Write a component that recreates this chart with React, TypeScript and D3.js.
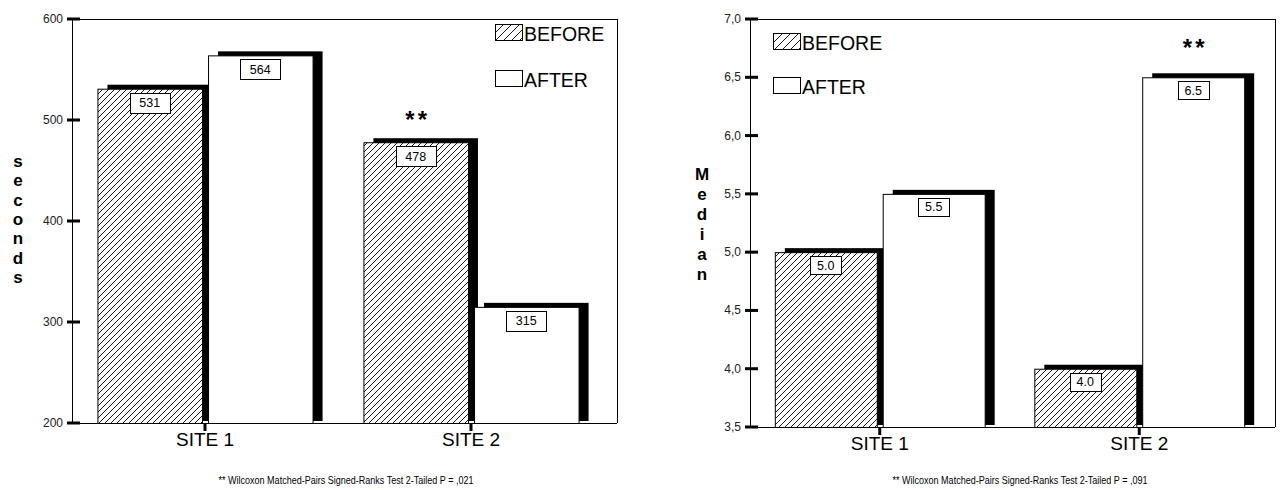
import React from "react";
import * as d3 from "d3";

// ---------- data ----------
const sites = ["SITE 1", "SITE 2"];
const seriesNames = ["BEFORE", "AFTER"];

const secondsBefore = [531, 478];
const secondsAfter = [564, 315];
const secondsTicks = [200, 300, 400, 500, 600];
const secondsSig = [{ site: "SITE 2", series: "BEFORE" }];
const secondsNote = "** Wilcoxon Matched-Pairs Signed-Ranks Test 2-Tailed P =  ,021";

const medianBefore = [5.0, 4.0];
const medianAfter = [5.5, 6.5];
const medianTicks = [3.5, 4.0, 4.5, 5.0, 5.5, 6.0, 6.5, 7.0];
const medianSig = [{ site: "SITE 2", series: "AFTER" }];
const medianNote = "** Wilcoxon Matched-Pairs Signed-Ranks Test 2-Tailed P =  ,091";

const FONT = "'Liberation Sans', Arial, sans-serif";

type ChartCfg = {
  id: string;
  axisX: number;
  rightX: number;
  top: number;
  bottom: number;
  domain: [number, number];
  bandStep: number;
  before: number[];
  after: number[];
  ticks: number[];
  tickFmt: (v: number) => string;
  valFmt: (v: number) => string;
  yLabel: string;
  yLabelX: number;
  yLabelY0: number;
  yLabelStep: number;
  legendX: number;
  legendY: number;
  legendGap: number;
  boxW: number;
  boxH: number;
  sig: { site: string; series: string }[];
  sigOffset: number;
  note: string;
  noteX: number;
};

const commaFmt = (v: number) => d3.format(".1f")(v).replace(".", ",");

const charts: ChartCfg[] = [
  {
    id: "sec",
    axisX: 72,
    rightX: 617,
    top: 19,
    bottom: 423,
    domain: [200, 600],
    bandStep: 266,
    before: secondsBefore,
    after: secondsAfter,
    ticks: secondsTicks,
    tickFmt: (v) => String(v),
    valFmt: (v) => String(v),
    yLabel: "seconds",
    yLabelX: 18,
    yLabelY0: 167,
    yLabelStep: 19.3,
    legendX: 495,
    legendY: 24,
    legendGap: 46,
    boxW: 40,
    boxH: 20,
    sig: secondsSig,
    sigOffset: 14,
    note: secondsNote,
    noteX: 346,
  },
  {
    id: "med",
    axisX: 750,
    rightX: 1275,
    top: 19,
    bottom: 427,
    domain: [3.5, 7.0],
    bandStep: 259.5,
    before: medianBefore,
    after: medianAfter,
    ticks: medianTicks,
    tickFmt: commaFmt,
    valFmt: (v) => d3.format(".1f")(v),
    yLabel: "Median",
    yLabelX: 702,
    yLabelY0: 180,
    yLabelStep: 20,
    legendX: 773,
    legendY: 33,
    legendGap: 44,
    boxW: 31,
    boxH: 18,
    sig: medianSig,
    sigOffset: 21,
    note: medianNote,
    noteX: 1020,
  },
];

function Chart({ c }: { c: ChartCfg }) {
  const y = d3.scaleLinear().domain(c.domain).range([c.bottom, c.top]);
  const x0 = d3
    .scaleBand<string>()
    .domain(sites)
    .range([c.axisX, c.axisX + c.bandStep * sites.length])
    .padding(0);
  const x1 = d3
    .scaleBand<string>()
    .domain(seriesNames)
    .range([0, x0.bandwidth()])
    .paddingInner(0.055)
    .paddingOuter(0.23);

  const vals: Record<string, number[]> = { BEFORE: c.before, AFTER: c.after };
  const bars = sites.flatMap((s, i) =>
    seriesNames.map((k) => ({
      site: s,
      series: k,
      value: vals[k][i],
      x: (x0(s) as number) + (x1(k) as number),
      w: x1.bandwidth(),
    }))
  );
  const dx = 10;
  const dy = 4;
  const patternId = `hatch-${c.id}`;
  const legendPatternId = `hatchL-${c.id}`;

  return (
    <g fontFamily={FONT}>
      <defs>
        <pattern id={patternId} patternUnits="userSpaceOnUse" width={6} height={6}>
          <rect width={6} height={6} fill="#fff" />
          <path d="M-1,1 l2,-2 M0,6 l6,-6 M5,7 l2,-2" stroke="#000" strokeWidth={0.9} />
        </pattern>
        <pattern id={legendPatternId} patternUnits="userSpaceOnUse" width={8} height={8}>
          <rect width={8} height={8} fill="#fff" />
          <path d="M-1,1 l2,-2 M0,8 l8,-8 M7,9 l2,-2" stroke="#000" strokeWidth={0.9} />
        </pattern>
      </defs>

      {/* frame */}
      <line x1={c.axisX} x2={c.rightX} y1={c.top + 0.5} y2={c.top + 0.5} stroke="#000" strokeWidth={1} />
      <line x1={c.rightX + 0.5} x2={c.rightX + 0.5} y1={c.top} y2={c.bottom} stroke="#000" strokeWidth={1} />
      <line x1={c.axisX} x2={c.rightX} y1={c.bottom + 0.5} y2={c.bottom + 0.5} stroke="#000" strokeWidth={1} />

      {/* bars with shadows */}
      {bars.map((b, i) => {
        const yt = y(b.value);
        return (
          <g key={i}>
            <rect x={b.x + dx} y={yt - dy} width={b.w} height={c.bottom - yt + 2} fill="#000" />
            <rect
              x={b.x + 0.5}
              y={yt + 0.5}
              width={b.w}
              height={c.bottom - yt}
              fill={b.series === "BEFORE" ? `url(#${patternId})` : "#fff"}
              stroke="#000"
              strokeWidth={1}
            />
          </g>
        );
      })}

      {/* value boxes */}
      {bars.map((b, i) => {
        const yt = y(b.value);
        const cx = b.x + b.w / 2;
        return (
          <g key={`v${i}`}>
            <rect
              x={Math.round(cx - c.boxW / 2) + 0.5}
              y={Math.round(yt + 4) + 0.5}
              width={c.boxW}
              height={c.boxH}
              fill="#fff"
              stroke="#000"
              strokeWidth={1}
            />
            <text x={cx} y={yt + 4 + c.boxH / 2 + 4.5} textAnchor="middle" fontSize={12.5} fill="#000">
              {c.valFmt(b.value)}
            </text>
          </g>
        );
      })}

      {/* significance marks */}
      {c.sig.map((m, i) => {
        const b = bars.find((bb) => bb.site === m.site && bb.series === m.series)!;
        return (
          <text
            key={`s${i}`}
            x={b.x + b.w / 2 + 2}
            y={y(b.value) - c.sigOffset}
            textAnchor="middle"
            fontSize={24}
            fontWeight="bold"
            letterSpacing={3}
          >
            **
          </text>
        );
      })}

      {/* y axis */}
      <line x1={c.axisX + 0.5} x2={c.axisX + 0.5} y1={c.top} y2={c.bottom + 1} stroke="#000" strokeWidth={1} />
      {c.ticks.map((t) => (
        <g key={t}>
          <line x1={c.axisX - 5} x2={c.axisX + 8} y1={y(t)} y2={y(t)} stroke="#000" strokeWidth={3} />
          <text x={c.axisX - 9} y={y(t) + 4} textAnchor="end" fontSize={12} fill="#222">
            {c.tickFmt(t)}
          </text>
        </g>
      ))}

      {/* x axis ticks & labels */}
      {sites.map((s) => {
        const cx = (x0(s) as number) + x0.bandwidth() / 2;
        return (
          <g key={s}>
            <line x1={cx} x2={cx} y1={c.bottom} y2={c.bottom + 8} stroke="#000" strokeWidth={3} />
            <text x={cx} y={c.bottom + 23} textAnchor="middle" fontSize={19}>
              {s}
            </text>
          </g>
        );
      })}

      {/* y label stacked */}
      {c.yLabel.split("").map((ch, i) => (
        <text
          key={`l${i}`}
          x={c.yLabelX}
          y={c.yLabelY0 + i * c.yLabelStep}
          textAnchor="middle"
          fontSize={17}
          fontWeight="bold"
        >
          {ch}
        </text>
      ))}

      {/* legend */}
      {seriesNames.map((k, i) => (
        <g key={k}>
          <rect
            x={c.legendX + 0.5}
            y={c.legendY + i * c.legendGap + 0.5}
            width={27}
            height={16}
            fill={k === "BEFORE" ? `url(#${legendPatternId})` : "#fff"}
            stroke="#000"
            strokeWidth={1}
          />
          <text x={c.legendX + 29} y={c.legendY + i * c.legendGap + 17} fontSize={19.5}>
            {k}
          </text>
        </g>
      ))}

      {/* footnote */}
      <text
        x={c.noteX}
        y={484}
        textAnchor="middle"
        fontSize={10.5}
        fill="#000"
        textLength={255}
        lengthAdjust="spacingAndGlyphs"
      >
        {c.note}
      </text>
    </g>
  );
}

export default function App() {
  return (
    <svg
      width={1281}
      height={490}
      style={{ position: "absolute", left: 0, top: 0, background: "#fff" }}
    >
      <rect width={1281} height={490} fill="#fff" />
      {charts.map((c) => (
        <Chart key={c.id} c={c} />
      ))}
    </svg>
  );
}
